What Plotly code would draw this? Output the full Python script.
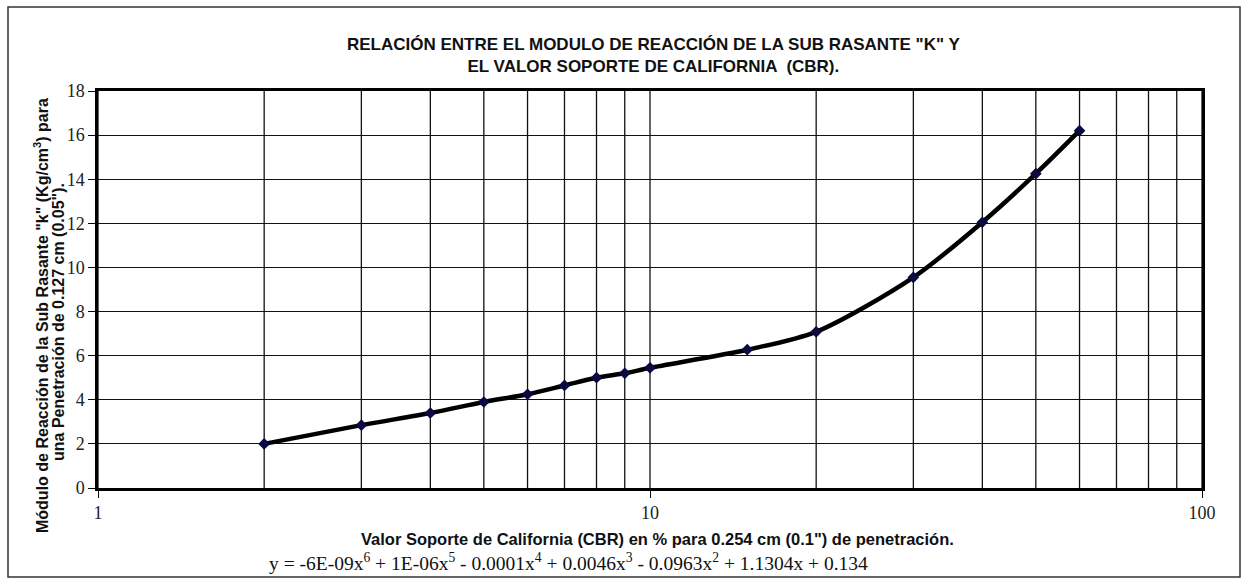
import plotly.graph_objects as go

cbr = [2, 3, 4, 5, 6, 7, 8, 9, 10, 15, 20, 30, 40, 50, 60]
k_val = [2.0, 2.85, 3.4, 3.9, 4.25, 4.65, 5.0, 5.2, 5.45, 6.27, 7.08, 9.55, 12.05, 14.25, 16.2]

x_ticks = [1, 10, 100]
x_grid = [1, 2, 3, 4, 5, 6, 7, 8, 9, 10, 20, 30, 40, 50, 60, 70, 80, 90, 100]
y_ticks = [0, 2, 4, 6, 8, 10, 12, 14, 16, 18]

title_text = ("RELACIÓN ENTRE EL MODULO DE REACCIÓN DE LA SUB RASANTE \"K\" Y<br>"
              "EL VALOR SOPORTE DE CALIFORNIA  (CBR).")
y_title_1 = "Módulo de Reacción de la Sub Rasante \"k\" (Kg/cm<sup>3</sup>) para"
y_title_2 = "una Penetración de 0.127 cm (0.05\")."
x_title = "Valor Soporte de California (CBR) en % para 0.254 cm (0.1\") de penetración."
equation = ("y = -6E-09x<sup>6</sup> + 1E-06x<sup>5</sup> - 0.0001x<sup>4</sup> + 0.0046x<sup>3</sup>"
            " - 0.0963x<sup>2</sup> + 1.1304x + 0.134")

fig = go.Figure()
fig.add_trace(go.Scatter(
    x=cbr, y=k_val, mode="lines+markers",
    line=dict(color="black", width=4.5, shape="spline", smoothing=0.8),
    marker=dict(symbol="diamond", size=9, color="#0a0a40"),
    showlegend=False,
))

W, H = 1243, 580
ml, mr, mt, mb = 98, 41, 91, 92
pw, ph = W - ml - mr, H - mt - mb

def px_x(p):
    return (p - ml) / pw

def px_y(p):
    return (H - mb - p) / ph

for g in x_grid:
    fig.add_shape(type="line", xref="x", yref="paper", x0=g, x1=g, y0=0, y1=1,
                  line=dict(color="#111111", width=1.3), layer="below")

fig.update_layout(
    width=W, height=H,
    margin=dict(l=ml, r=mr, t=mt, b=mb),
    paper_bgcolor="white", plot_bgcolor="white",
    xaxis=dict(type="log", range=[0, 2], tickvals=x_ticks, ticktext=[str(v) for v in x_ticks],
               showgrid=False, showline=True, linecolor="black", linewidth=2.5, mirror=True,
               ticks="outside", ticklen=7, tickcolor="black",
               tickfont=dict(family="Liberation Serif", size=18, color="#222")),
    yaxis=dict(range=[0, 18], tickvals=y_ticks, showgrid=True, gridcolor="#111111", gridwidth=1.3,
               showline=True, linecolor="black", linewidth=2.5, mirror=True,
               ticks="outside", ticklen=7, tickcolor="black", zeroline=False,
               tickfont=dict(family="Liberation Serif", size=18, color="#222")),
)

annos = [
    dict(text="<b>" + title_text + "</b>", x=px_x(653), y=px_y(56), xanchor="center", yanchor="middle",
         font=dict(family="Liberation Sans", size=17, color="#111")),
    dict(text="<b>" + y_title_1 + "</b>", x=px_x(41), y=px_y(316), xanchor="center", yanchor="middle",
         textangle=-90, font=dict(family="Liberation Sans", size=16, color="#111")),
    dict(text="<b>" + y_title_2 + "</b>", x=px_x(58), y=px_y(322), xanchor="center", yanchor="middle",
         textangle=-90, font=dict(family="Liberation Sans", size=16, color="#111")),
    dict(text="<b>" + x_title + "</b>", x=px_x(657), y=px_y(539), xanchor="center", yanchor="middle",
         font=dict(family="Liberation Sans", size=16.5, color="#111")),
    dict(text=equation, x=px_x(568), y=px_y(562), xanchor="center", yanchor="middle",
         font=dict(family="Liberation Serif", size=19.5, color="#111")),
]
for a in annos:
    a.update(xref="paper", yref="paper", showarrow=False)
fig.update_layout(annotations=annos)

fig.add_shape(type="rect", xref="paper", yref="paper",
              x0=px_x(8), x1=px_x(1240), y0=px_y(577), y1=px_y(7),
              line=dict(color="#333", width=1.5))

fig.write_html("out.html", config={"displayModeBar": False},
               post_script="document.body.style.margin='0';document.body.style.overflow='hidden';")
